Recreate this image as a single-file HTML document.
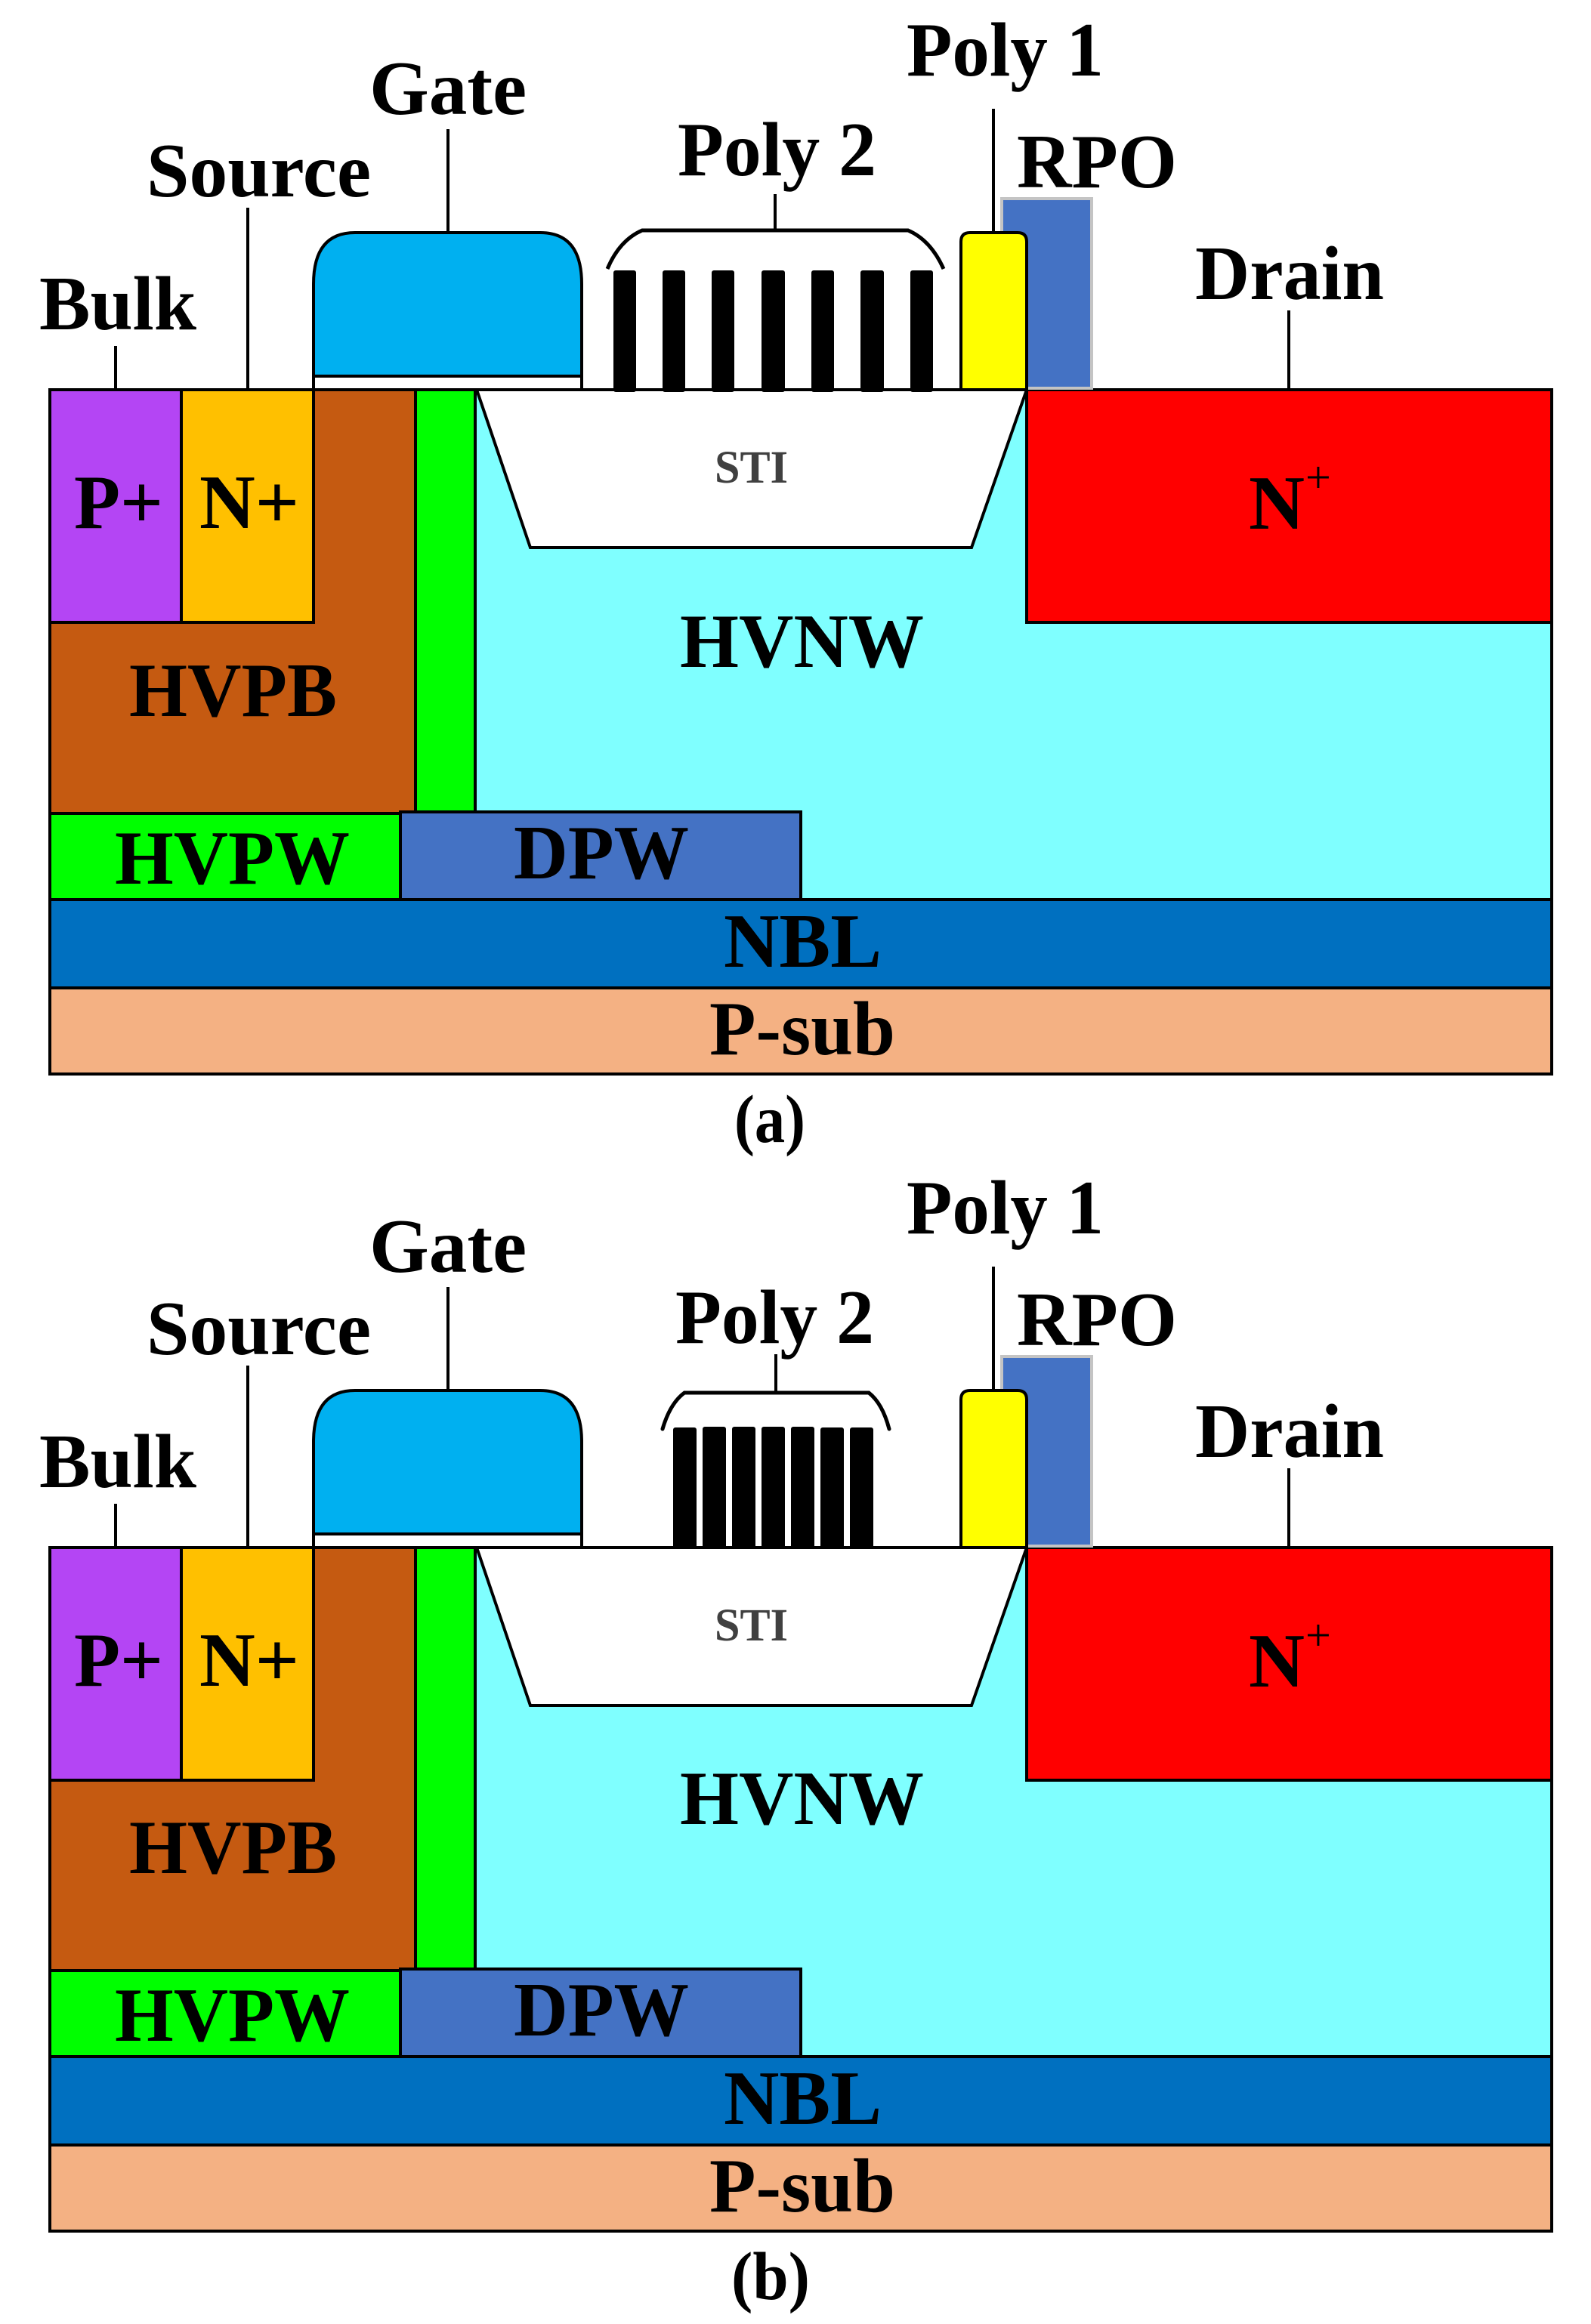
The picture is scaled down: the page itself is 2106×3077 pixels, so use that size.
<!DOCTYPE html>
<html><head><meta charset="utf-8"><title>Diagram</title>
<style>
html,body{margin:0;padding:0;background:#fff}
svg{display:block}
text{font-family:"Liberation Serif",serif;font-weight:bold;fill:#000}
</style></head><body>
<svg xmlns="http://www.w3.org/2000/svg" width="2106" height="3077" viewBox="0 0 2106 3077">
<rect width="2106" height="3077" fill="#fff"/>

<!-- ========== (a) ========== -->
<g stroke="#000" stroke-width="4">
<rect x="66" y="516" width="1988" height="675" fill="#7FFFFF"/>
<path d="M66 516H551V1077H66Z" fill="#C55A11"/>
<rect x="66" y="516" width="174" height="308" fill="#B445F4"/>
<rect x="240" y="516" width="175" height="308" fill="#FFC000"/>
<rect x="550" y="516" width="79" height="560" fill="#00FF00"/>
<rect x="66" y="1077" width="464" height="114" fill="#00FF00"/>
<rect x="530" y="1075" width="530" height="116" fill="#4472C4"/>
<rect x="66" y="1191" width="1988" height="117" fill="#0070C0"/>
<rect x="66" y="1308" width="1988" height="114" fill="#F4B183"/>
<path d="M631 516L702 725H1286L1359 516Z" fill="#fff"/>
<rect x="1359" y="516" width="695" height="308" fill="#FF0000"/>
<path d="M415 516V376Q415 308 470 308H715Q770 308 770 376V516Z" fill="#00B0F0"/>
<path d="M415 498H770V516H415Z" fill="#fff"/>
<path d="M153 458V516M328 275V516M593 171V308M1315 144V308M1706 411V516M1026 257V305" fill="none"/>
<rect x="1326" y="263" width="119" height="251" fill="#4472C4" stroke="#C4C4C4"/>
<path d="M1272 516V320Q1272 308 1284 308H1347Q1359 308 1359 320V516Z" fill="#FFFF00"/>
<path d="M804 356Q820 318 850 305H1202Q1232 318 1249 356" fill="none" stroke-width="5"/>
</g>
<g fill="#000">
<rect x="812" y="358" width="30" height="161" rx="3"/>
<rect x="877" y="358" width="30" height="161" rx="3"/>
<rect x="942" y="358" width="30" height="161" rx="3"/>
<rect x="1008" y="358" width="31" height="161" rx="3"/>
<rect x="1074" y="358" width="30" height="161" rx="3"/>
<rect x="1139" y="358" width="31" height="161" rx="3"/>
<rect x="1205" y="358" width="30" height="161" rx="3"/>
</g>
<g>
<text x="489" y="151" font-size="102" textLength="208" lengthAdjust="spacingAndGlyphs">Gate</text>
<text x="194" y="260" font-size="102" textLength="297" lengthAdjust="spacingAndGlyphs">Source</text>
<text x="52" y="436" font-size="102" textLength="208" lengthAdjust="spacingAndGlyphs">Bulk</text>
<text x="897" y="232" font-size="102" textLength="263" lengthAdjust="spacingAndGlyphs">Poly 2</text>
<text x="1200" y="100" font-size="102" textLength="261" lengthAdjust="spacingAndGlyphs">Poly 1</text>
<text x="1346" y="248" font-size="102" textLength="212" lengthAdjust="spacingAndGlyphs">RPO</text>
<text x="1582" y="396" font-size="102" textLength="250" lengthAdjust="spacingAndGlyphs">Drain</text>
<text x="98" y="699" font-size="102" textLength="118" lengthAdjust="spacingAndGlyphs">P+</text>
<text x="264" y="699" font-size="102" textLength="132" lengthAdjust="spacingAndGlyphs">N+</text>
<text x="1653" y="700" font-size="102" textLength="74" lengthAdjust="spacingAndGlyphs">N</text>
<text x="1728" y="652" font-size="60" style="font-weight:normal">+</text>
<text x="171" y="948" font-size="102" textLength="275" lengthAdjust="spacingAndGlyphs">HVPB</text>
<text x="900" y="883" font-size="102" textLength="323" lengthAdjust="spacingAndGlyphs">HVNW</text>
<text x="152" y="1170" font-size="102" textLength="311" lengthAdjust="spacingAndGlyphs">HVPW</text>
<text x="680" y="1163" font-size="102" textLength="232" lengthAdjust="spacingAndGlyphs">DPW</text>
<text x="958" y="1280" font-size="102" textLength="209" lengthAdjust="spacingAndGlyphs">NBL</text>
<text x="939" y="1396" font-size="102" textLength="246" lengthAdjust="spacingAndGlyphs">P-sub</text>
<text x="946" y="639" font-size="61" textLength="97" lengthAdjust="spacingAndGlyphs" style="fill:#404040">STI</text>
<text x="972" y="1512" font-size="90" textLength="94" lengthAdjust="spacingAndGlyphs">(a)</text>
</g>

<!-- ========== (b) ========== -->
<g stroke="#000" stroke-width="4">
<rect x="66" y="2049" width="1988" height="674" fill="#7FFFFF"/>
<path d="M66 2049H551V2609H66Z" fill="#C55A11"/>
<rect x="66" y="2049" width="174" height="308" fill="#B445F4"/>
<rect x="240" y="2049" width="175" height="308" fill="#FFC000"/>
<rect x="550" y="2049" width="79" height="559" fill="#00FF00"/>
<rect x="66" y="2609" width="464" height="114" fill="#00FF00"/>
<rect x="530" y="2607" width="530" height="116" fill="#4472C4"/>
<rect x="66" y="2723" width="1988" height="117" fill="#0070C0"/>
<rect x="66" y="2840" width="1988" height="114" fill="#F4B183"/>
<path d="M631 2049L702 2258H1286L1359 2049Z" fill="#fff"/>
<rect x="1359" y="2049" width="695" height="308" fill="#FF0000"/>
<path d="M415 2049V1909Q415 1841 470 1841H715Q770 1841 770 1909V2049Z" fill="#00B0F0"/>
<path d="M415 2031H770V2049H415Z" fill="#fff"/>
<path d="M153 1991V2049M328 1808V2049M593 1704V1841M1315 1677V1841M1706 1944V2049M1027 1793V1844" fill="none"/>
<rect x="1326" y="1796" width="119" height="251" fill="#4472C4" stroke="#C4C4C4"/>
<path d="M1272 2049V1853Q1272 1841 1284 1841H1347Q1359 1841 1359 1853V2049Z" fill="#FFFF00"/>
<path d="M877 1892Q887 1858 906 1844H1150Q1168 1858 1177 1892" fill="none" stroke-width="5" stroke-linecap="round"/>
</g>
<g fill="#000">
<rect x="891" y="1890" width="31" height="161" rx="3"/>
<rect x="930" y="1889" width="31" height="162" rx="3"/>
<rect x="969" y="1889" width="31" height="162" rx="3"/>
<rect x="1008" y="1889" width="31" height="162" rx="3"/>
<rect x="1047" y="1889" width="31" height="162" rx="3"/>
<rect x="1086" y="1890" width="31" height="161" rx="3"/>
<rect x="1125" y="1890" width="31" height="161" rx="3"/>
</g>
<g>
<text x="489" y="1684" font-size="102" textLength="208" lengthAdjust="spacingAndGlyphs">Gate</text>
<text x="194" y="1793" font-size="102" textLength="297" lengthAdjust="spacingAndGlyphs">Source</text>
<text x="52" y="1969" font-size="102" textLength="208" lengthAdjust="spacingAndGlyphs">Bulk</text>
<text x="894" y="1778" font-size="102" textLength="263" lengthAdjust="spacingAndGlyphs">Poly 2</text>
<text x="1200" y="1633" font-size="102" textLength="261" lengthAdjust="spacingAndGlyphs">Poly 1</text>
<text x="1346" y="1781" font-size="102" textLength="212" lengthAdjust="spacingAndGlyphs">RPO</text>
<text x="1582" y="1929" font-size="102" textLength="250" lengthAdjust="spacingAndGlyphs">Drain</text>
<text x="98" y="2232" font-size="102" textLength="118" lengthAdjust="spacingAndGlyphs">P+</text>
<text x="264" y="2232" font-size="102" textLength="132" lengthAdjust="spacingAndGlyphs">N+</text>
<text x="1653" y="2233" font-size="102" textLength="74" lengthAdjust="spacingAndGlyphs">N</text>
<text x="1728" y="2185" font-size="60" style="font-weight:normal">+</text>
<text x="171" y="2480" font-size="102" textLength="275" lengthAdjust="spacingAndGlyphs">HVPB</text>
<text x="900" y="2415" font-size="102" textLength="323" lengthAdjust="spacingAndGlyphs">HVNW</text>
<text x="152" y="2702" font-size="102" textLength="311" lengthAdjust="spacingAndGlyphs">HVPW</text>
<text x="680" y="2695" font-size="102" textLength="232" lengthAdjust="spacingAndGlyphs">DPW</text>
<text x="958" y="2812" font-size="102" textLength="209" lengthAdjust="spacingAndGlyphs">NBL</text>
<text x="939" y="2928" font-size="102" textLength="246" lengthAdjust="spacingAndGlyphs">P-sub</text>
<text x="946" y="2172" font-size="61" textLength="97" lengthAdjust="spacingAndGlyphs" style="fill:#404040">STI</text>
<text x="968" y="3044" font-size="90" textLength="104" lengthAdjust="spacingAndGlyphs">(b)</text>
</g>
</svg>
</body></html>
